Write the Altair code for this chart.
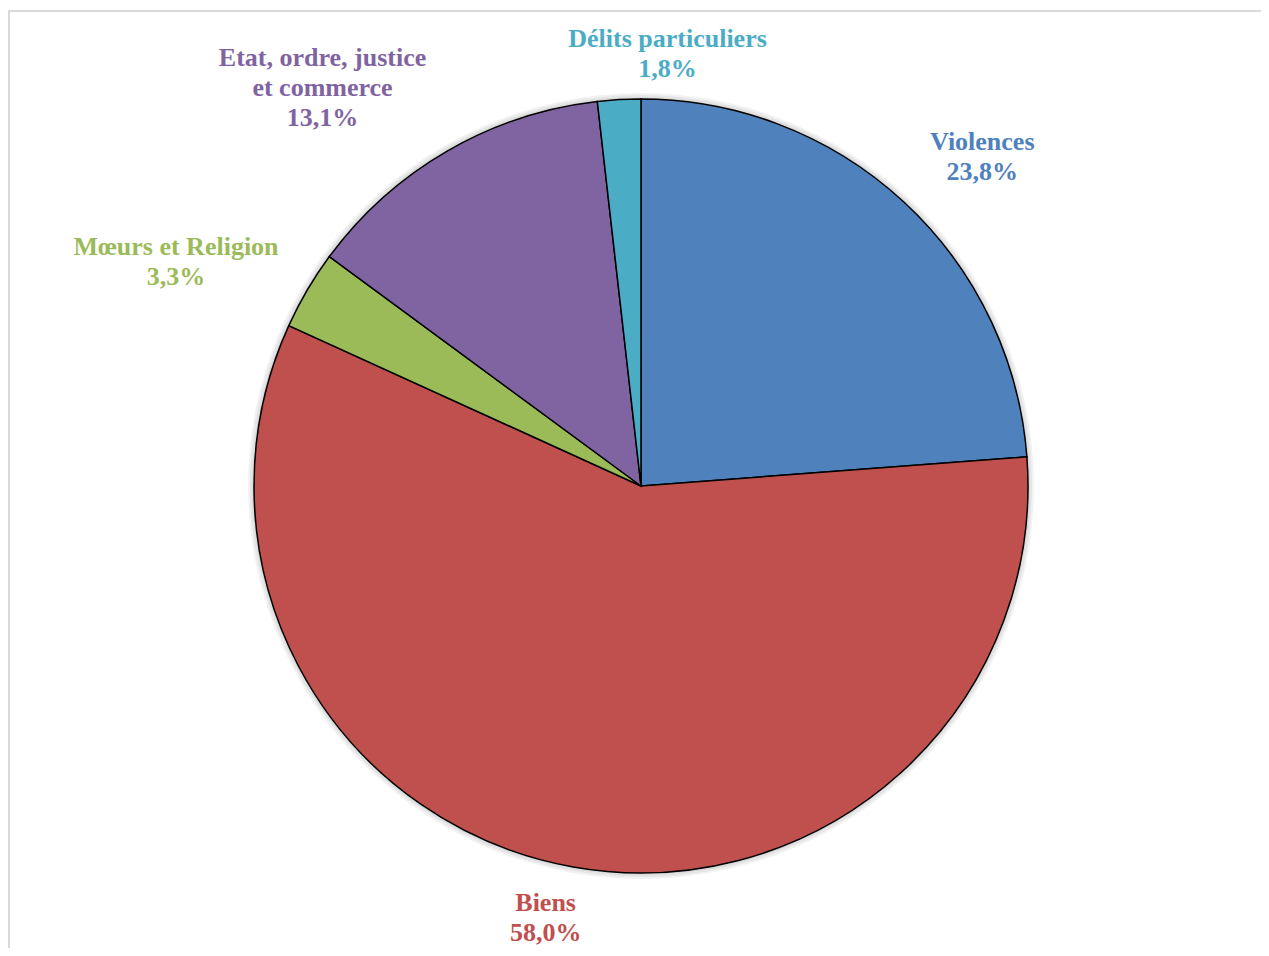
import altair as alt
import pandas as pd
import math

categories = ["Violences", "Biens", "Mœurs et Religion", "Etat, ordre, justice\net commerce", "Délits particuliers"]
values = [23.8, 58.0, 3.3, 13.1, 1.8]
pct_labels = ["23,8%", "58,0%", "3,3%", "13,1%", "1,8%"]
colors = ["#4F81BD", "#C0504D", "#9BBB59", "#8064A2", "#4BACC6"]

df = pd.DataFrame({
    "cat": categories,
    "value": values,
    "order": list(range(len(categories))),
    "label": [c + "\n" + p for c, p in zip(categories, pct_labels)],
})

W, H = 1253, 940
CX, CY = 633, 478
R = 387

color = alt.Color("cat:N", scale=alt.Scale(domain=categories, range=colors), legend=None)
theta = alt.Theta("value:Q", stack=True)
order = alt.Order("order:Q")

base = alt.Chart(df).encode(theta=theta, order=order, x=alt.value(CX), y=alt.value(CY))

shadows = [
    base.mark_arc(outerRadius=R + k, fill="#000000", opacity=0.05, strokeWidth=0)
    for k in (2, 4, 6)
]

pie = base.mark_arc(outerRadius=R, stroke="black", strokeWidth=1.5).encode(color=color)

# label placement: (radius, dx, dy) per category
placement = {
    categories[0]: (474, 19, 4),
    categories[1]: (442, -18, -18),
    categories[2]: (516, -20, 22),
    categories[3]: (510, -63, 13),
    categories[4]: (433, 51, -15),
}

total = sum(values)
label_base = (
    alt.Chart(df)
    .transform_window(cum="sum(value)", sort=[alt.SortField("order")],
                      frame=[None, 0])
    .transform_calculate(mid="datum.cum - datum.value / 2")
    .encode(
        theta=alt.Theta("mid:Q", stack=None,
                        scale=alt.Scale(domain=[0, total], range=[0, 2 * math.pi])),
        x=alt.value(CX), y=alt.value(CY),
        text="label:N", color=color,
    )
)

texts = []
for cat, (r, dx, dy) in placement.items():
    texts.append(
        label_base.mark_text(radius=r, dx=dx, dy=dy, font="Liberation Serif", fontWeight="bold",
                             fontSize=26, lineHeight=30, lineBreak="\n", align="center",
                             baseline="middle")
        .transform_filter(alt.datum.cat == cat)
    )

frame_h = alt.Chart(df).mark_rule(color="#D9D9D9", strokeWidth=2).encode(
    x=alt.value(0), x2=alt.value(W + 10), y=alt.value(3))
frame_v = alt.Chart(df).mark_rule(color="#D9D9D9", strokeWidth=2).encode(
    x=alt.value(1), y=alt.value(3), y2=alt.value(H + 10))

chart = alt.layer(frame_h, frame_v, *shadows, pie, *texts).properties(
    width=W, height=H, autosize=alt.AutoSizeParams(type="none"), padding=0
).configure_view(stroke=None)

chart.save("out.html", embed_options={"renderer": "svg", "actions": False})
